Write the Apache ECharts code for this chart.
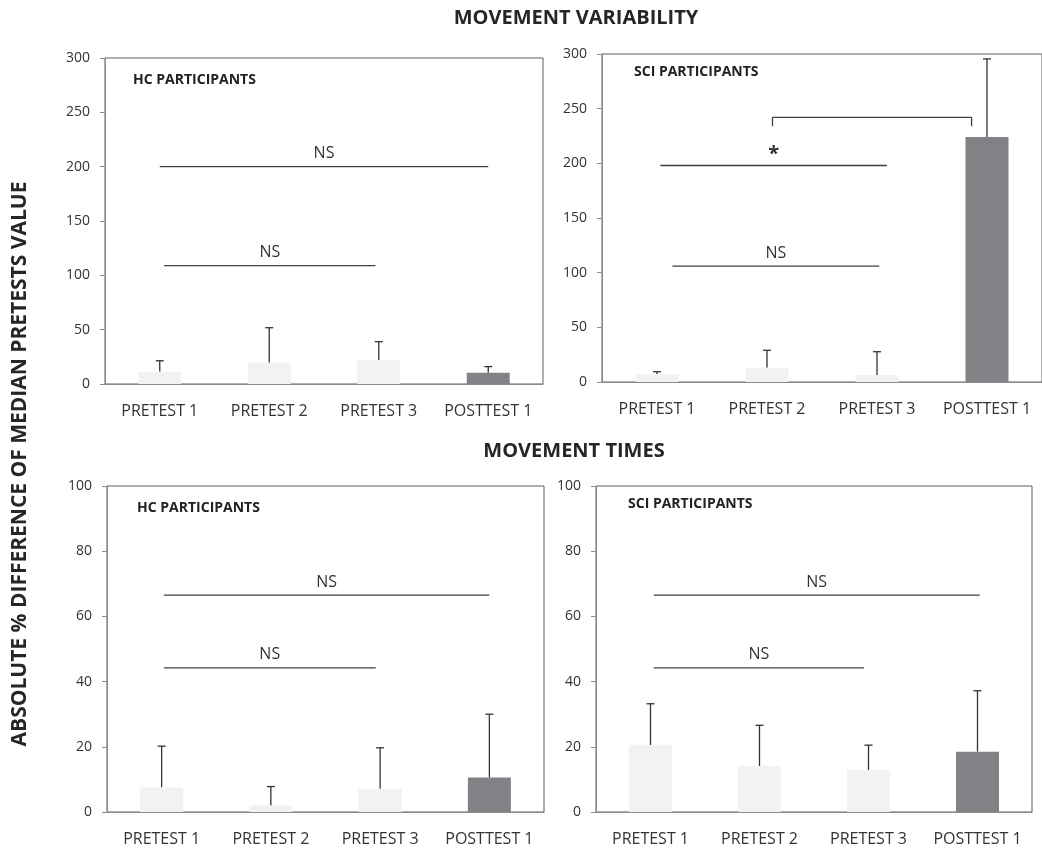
<!DOCTYPE html>
<html>
<head>
<meta charset="utf-8">
<script src="https://cdn.jsdelivr.net/npm/echarts@6/dist/echarts.min.js"></script>
<style>html,body{margin:0;padding:0;background:#fff}#c{width:1042px;height:852px}</style>
</head>
<body>
<div id="c"></div>
<script>
// ---- data ----
const categories = ['PRETEST 1', 'PRETEST 2', 'PRETEST 3', 'POSTTEST 1'];

const varHcMean = [11.3, 19.6, 22, 10.4];
const varHcSd   = [10.1, 32.2, 17, 5.6];
const varSciMean = [7, 13, 6.4, 224];
const varSciSd   = [2.4, 16, 21.3, 71.5];
const timeHcMean = [7.5, 2, 7.1, 10.6];
const timeHcSd   = [12.7, 5.8, 12.6, 19.4];
const timeSciMean = [20.5, 14.1, 12.9, 18.5];
const timeSciSd   = [12.7, 12.5, 7.6, 18.7];

const varYTicks = [0, 300, 50];   // min, max, interval
const timeYTicks = [0, 100, 20];

// significance annotations: [xStart, xEnd, y, label]  (x in category units)
const varHcSig = [[0, 3, 200, 'NS'], [0.04, 1.97, 109, 'NS']];
const varSciSig = [[0.03, 2.09, 198, '*'], [0.14, 2.02, 106, 'NS']];
const varSciBracket = [[1.05, 234], [1.05, 242], [2.86, 242], [2.86, 234]];
const timeHcSig = [[0.02, 3, 66.5, 'NS'], [0.02, 1.96, 44.2, 'NS']];
const timeSciSig = [[0.03, 3.02, 66.5, 'NS'], [0.03, 1.96, 44.2, 'NS']];

// ---- layout ----
const panels = [
  {grid:{left:105, top:58, width:438, height:326}, mean:varHcMean, sd:varHcSd, ticks:varYTicks, sig:varHcSig, label:'HC PARTICIPANTS', lx:133, ly:82},
  {grid:{left:602, top:54, width:445, height:328}, mean:varSciMean, sd:varSciSd, ticks:varYTicks, sig:varSciSig, label:'SCI PARTICIPANTS', lx:634, ly:74, bracket:varSciBracket},
  {grid:{left:107, top:486, width:437, height:326}, mean:timeHcMean, sd:timeHcSd, ticks:timeYTicks, sig:timeHcSig, label:'HC PARTICIPANTS', lx:137, ly:510},
  {grid:{left:596, top:486, width:436, height:326}, mean:timeSciMean, sd:timeSciSd, ticks:timeYTicks, sig:timeSciSig, label:'SCI PARTICIPANTS', lx:628, ly:506}
];

const FONT = '"Open Sans", "Liberation Sans", sans-serif';
const TXT = '#333333';
const LIGHT = '#f1f2f2';
const DARK = '#808285';

const grids = [], xAxes = [], yAxes = [], series = [], graphics = [];

panels.forEach((p, i) => {
  grids.push(Object.assign({show:true, borderColor:'#5e5e5e', borderWidth:1, backgroundColor:'transparent'}, p.grid));
  xAxes.push({type:'category', gridIndex:i, data:categories,
    axisLine:{onZero:false, lineStyle:{color:'#8c8c8c', width:1}}, axisTick:{show:false},
    axisLabel:{color:TXT, fontSize:16, fontFamily:FONT, margin:19, interval:0},
    splitLine:{show:false}});
  xAxes.push({type:'value', gridIndex:i, min:-0.5, max:3.5, show:false});
  yAxes.push({type:'value', gridIndex:i, min:p.ticks[0], max:p.ticks[1], interval:p.ticks[2],
    axisLine:{show:true, onZero:false, lineStyle:{color:'#8c8c8c', width:1}},
    axisTick:{show:true, inside:false, length:5, lineStyle:{color:'#8c8c8c'}},
    axisLabel:{color:TXT, fontSize:14, fontFamily:FONT, margin:15},
    splitLine:{show:false}});

  series.push({type:'bar', xAxisIndex:2*i, yAxisIndex:i, barWidth:43,
    data:p.mean.map((v, k) => ({value:v, itemStyle:{color: k === 3 ? DARK : LIGHT}})),
    animation:false, silent:true});

  series.push({type:'custom', xAxisIndex:2*i, yAxisIndex:i, animation:false, silent:true,
    data:p.mean.map((v, k) => [k, v, v + p.sd[k]]),
    renderItem:function(params, api){
      const a = api.coord([api.value(0), api.value(1)]);
      const b = api.coord([api.value(0), api.value(2)]);
      const st = {stroke:'#333', lineWidth:1.3};
      return {type:'group', children:[
        {type:'line', shape:{x1:a[0], y1:a[1], x2:b[0], y2:b[1]}, style:st},
        {type:'line', shape:{x1:b[0]-4, y1:b[1], x2:b[0]+4, y2:b[1]}, style:st}
      ]};
    }});

  p.sig.forEach(s => {
    series.push({type:'line', xAxisIndex:2*i+1, yAxisIndex:i, animation:false, silent:true,
      symbol:'none', lineStyle:{color:'#404040', width:1.3},
      data:[[s[0], s[2]], [s[1], s[2]]]});
    series.push({type:'scatter', xAxisIndex:2*i+1, yAxisIndex:i, animation:false, silent:true,
      symbolSize:0, itemStyle:{opacity:1, color:TXT},
      label:{show:true, position:'top', distance: s[3] === '*' ? 1 : 5, formatter:s[3],
        color:TXT, opacity:1, fontSize: s[3] === '*' ? 20 : 16, fontFamily:FONT, fontWeight: s[3] === '*' ? 'bold' : 'normal'},
      data:[[(s[0]+s[1])/2, s[2]]]});
  });
  if (p.bracket) {
    series.push({type:'line', xAxisIndex:2*i+1, yAxisIndex:i, animation:false, silent:true,
      symbol:'none', lineStyle:{color:'#404040', width:1.3}, data:p.bracket});
  }
  graphics.push({type:'text', left:p.lx, top:p.ly - 9,
    style:{text:p.label, fill:'#222', font:'bold 14px ' + FONT}});
});

graphics.push({type:'text', x:576, y:18, style:{text:'MOVEMENT VARIABILITY', fill:'#262626',
  font:'bold 20px ' + FONT, textAlign:'center', textVerticalAlign:'middle'}});
graphics.push({type:'text', x:574, y:451, style:{text:'MOVEMENT TIMES', fill:'#262626',
  font:'bold 20px ' + FONT, textAlign:'center', textVerticalAlign:'middle'}});
graphics.push({type:'text', x:20, y:464, rotation:Math.PI/2, style:{text:'ABSOLUTE % DIFFERENCE OF MEDIAN PRETESTS VALUE', fill:'#262626',
  font:'bold 21px ' + FONT, textAlign:'center', textVerticalAlign:'middle'}});

const chart = echarts.init(document.getElementById('c'), null, {renderer:'canvas'});
chart.setOption({animation:false, grid:grids, xAxis:xAxes, yAxis:yAxes, series:series, graphic:graphics});
</script>
</body>
</html>
